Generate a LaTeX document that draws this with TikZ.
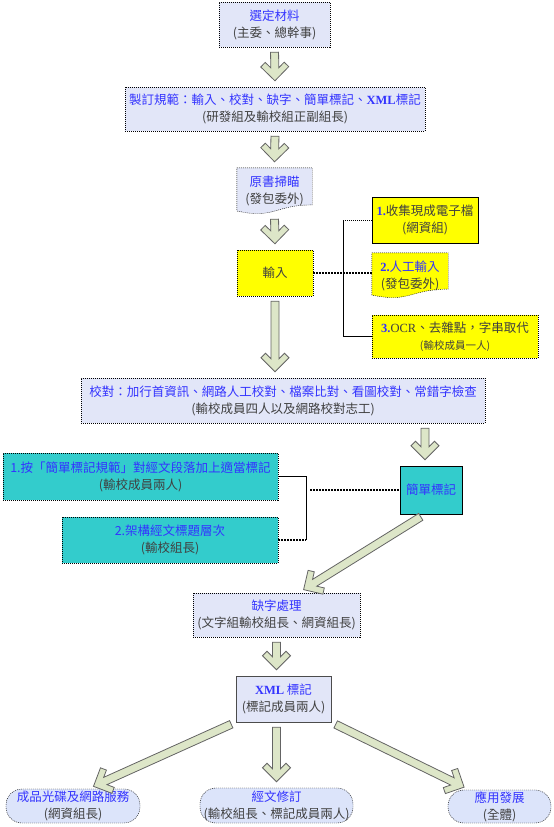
\documentclass[tikz,border=0pt]{standalone}
\usepackage{fontspec}
\setmainfont{Liberation Serif}
\newfontfamily\cjk{Noto Sans CJK TC}
\usetikzlibrary{calc,backgrounds}
\definecolor{flowblue}{RGB}{51,51,255}
\definecolor{flowgray}{RGB}{64,64,64}
\definecolor{boxfill}{RGB}{226,230,248}
\definecolor{pillfill}{RGB}{220,228,250}
\definecolor{inyellow}{RGB}{255,255,0}
\definecolor{markteal}{RGB}{51,204,204}
\definecolor{arrfill}{RGB}{221,230,200}
\definecolor{arrdraw}{RGB}{100,100,100}

% wide outlined arrow between two points
\newcommand{\fatarrow}[2]{%
  \path let \p1=($(#1)!5pt!(#2)$), \p2=($(#2)!6pt!(#1)$) in
    \pgfextra{%
      \pgfmathparse{atan2(\y2-\y1,\x2-\x1)}\xdef\faAng{\pgfmathresult}%
      \pgfmathparse{veclen(\x2-\x1,\y2-\y1)}\xdef\faLen{\pgfmathresult}%
      \xdef\faX{\x1}\xdef\faY{\y1}};
  \begin{scope}[shift={(\faX,\faY)}, rotate=\faAng]
    \draw[fatarr] (0pt,4pt) -- (\faLen pt-13pt,4pt) -- (\faLen pt-18.5pt,9.5pt)
      -- (\faLen pt-14pt,14pt) -- (\faLen pt,0pt) -- (\faLen pt-14pt,-14pt)
      -- (\faLen pt-18.5pt,-9.5pt) -- (\faLen pt-13pt,-4pt) -- (0pt,-4pt) -- cycle;
  \end{scope}}

% document shape (wavy bottom) around a node
\newcommand{\docshape}[2]{%
  \draw[#2] (#1.north west) -- (#1.north east) -- ($(#1.north east)!0.80!(#1.south east)$)
    .. controls ($(#1.north)!0.80!(#1.south)$) and ($(#1.north)!1.11!(#1.south)$)
    .. ($(#1.north west)!0.93!(#1.south west)$) -- cycle;}

\begin{document}
\begin{tikzpicture}[x=1pt, y=-1pt]
  \tikzset{
    box/.style={draw, dash pattern=on 1pt off 1pt, fill=boxfill, inner sep=0pt, align=center,
      text=flowgray, font=\cjk\fontsize{12.5}{17}\selectfont},
    docbox/.style={box, draw=none, fill=none},
    inbox/.style={box, fill=inyellow},
    markbox/.style={box, fill=markteal},
    xmlbox/.style={box, solid, draw=black!70},
    pill/.style={box, fill=pillfill, rounded corners=16pt},
    fatarr/.style={draw=arrdraw, fill=arrfill, line width=0.8pt},
    dotline/.style={line width=1.3pt, dash pattern=on 1.5pt off 1.5pt},
    tdotline/.style={line width=0.8pt, dash pattern=on 1pt off 1pt},
    joinline/.style={line width=0.8pt}
  }
  \useasboundingbox (0,0) rectangle (554,827);

  % main column
  \node[box, minimum width=111, minimum height=45] (sel) at (274.5,24.5)
    {\textcolor{flowblue}{選定材料}\\(主委、總幹事)};
  \node[box, minimum width=300, minimum height=44] (spec) at (275,109)
    {\textcolor{flowblue}{製訂規範：輸入、校對、缺字、簡單標記、{\rmfamily\bfseries XML}標記}\\(研發組及輸校組正副組長)};
  \node[docbox, minimum width=75, minimum height=46] (scan) at (274.5,191)
    {\textcolor{flowblue}{原書掃瞄}\\(發包委外)};
  \node[inbox, minimum width=76, minimum height=46] (inp) at (275,273) {輸入};

  % input methods
  \node[inbox, solid, minimum width=106, minimum height=46] (c1) at (425,220)
    {\textcolor{flowblue}{\rmfamily\bfseries 1.}收集現成電子檔\\(網資組)};
  \node[docbox, minimum width=76, minimum height=45] (c2) at (410,275.5)
    {\textcolor{flowblue}{\rmfamily\bfseries 2.}\textcolor{flowblue}{人工輸入}\\(發包委外)};
  \node[inbox, minimum width=166, minimum height=43] (c3) at (455,336.5)
    {\textcolor{flowblue}{\rmfamily\bfseries 3.}{\rmfamily OCR}、去雜點，字串取代\\{\fontsize{10.5}{13}\selectfont(輸校成員一人)}};

  \node[box, minimum width=404, minimum height=45] (chk) at (283,400.5)
    {\textcolor{flowblue}{校對：加行首資訊、網路人工校對、檔案比對、看圖校對、常錯字檢查}\\(輸校成員四人以及網路校對志工)};

  % simple markup
  \node[markbox, solid, minimum width=62, minimum height=48] (mk) at (431,490)
    {\textcolor{flowblue}{簡單標記}};
  \node[markbox, minimum width=275, minimum height=47] (m1) at (140.5,476.5)
    {\textcolor{flowblue}{1.按「簡單標記規範」對經文段落加上適當標記}\\(輸校成員兩人)};
  \node[markbox, minimum width=216, minimum height=46] (m2) at (170,540)
    {\textcolor{flowblue}{2.架構經文標題層次}\\(輸校組長)};

  \node[box, minimum width=167, minimum height=44] (miss) at (276.5,615)
    {\textcolor{flowblue}{缺字處理}\\(文字組輸校組長、網資組長)};
  \node[xmlbox, minimum width=95, minimum height=46] (xml) at (283.5,699)
    {\textcolor{flowblue}{{\rmfamily\bfseries XML} 標記}\\(標記成員兩人)};

  % outputs
  \node[pill, minimum width=134, minimum height=34] (p1) at (73,806)
    {\textcolor{flowblue}{成品光碟及網路服務}\\(網資組長)};
  \node[pill, minimum width=153, minimum height=35] (p2) at (276.5,805.5)
    {\textcolor{flowblue}{經文修訂}\\(輸校組長、標記成員兩人)};
  \node[pill, minimum width=103, minimum height=33] (p3) at (499.5,806.5)
    {\textcolor{flowblue}{應用發展}\\(全體)};

  \begin{scope}[on background layer]
    \docshape{scan}{fill=boxfill, dash pattern=on 1pt off 1pt}
    \docshape{c2}{fill=inyellow, dash pattern=on 1pt off 1pt}
  \end{scope}

  % brackets
  \coordinate (jIn) at (343,273);
  \draw[tdotline] (c1.west) -- (c1.west -| jIn);
  \draw[joinline] (c1.west -| jIn) -- (c3.west -| jIn) -- (c3.west);
  \draw[dotline] (inp.east) -- (inp.east -| c2.west);
  \coordinate (jMk) at (306,490);
  \coordinate (jMk2) at (310,490);
  \draw[joinline] (m1.east) -- (m1.east -| jMk) -- (m2.east -| jMk);
  \draw[dotline] (m2.east) -- (m2.east -| jMk);
  \draw[dotline] (jMk2 |- mk.west) -- (mk.west);

  % flow arrows
  \fatarrow{sel.south}{spec.north}
  \fatarrow{spec.south}{scan.north}
  \fatarrow{scan.south}{inp.north}
  \fatarrow{inp.south}{chk.north -| inp.south}
  \fatarrow{[xshift=-6pt]chk.south -| mk.north}{[xshift=-6pt]mk.north}
  \fatarrow{[xshift=-6pt]mk.south}{[xshift=22pt]miss.north}
  \fatarrow{miss.south}{miss.south |- xml.north}
  \fatarrow{xml.south west}{[xshift=15pt]p1.north}
  \fatarrow{xml.south -| p2.north}{p2.north}
  \fatarrow{xml.south east}{[xshift=-30pt]p3.north}
\end{tikzpicture}
\end{document}
